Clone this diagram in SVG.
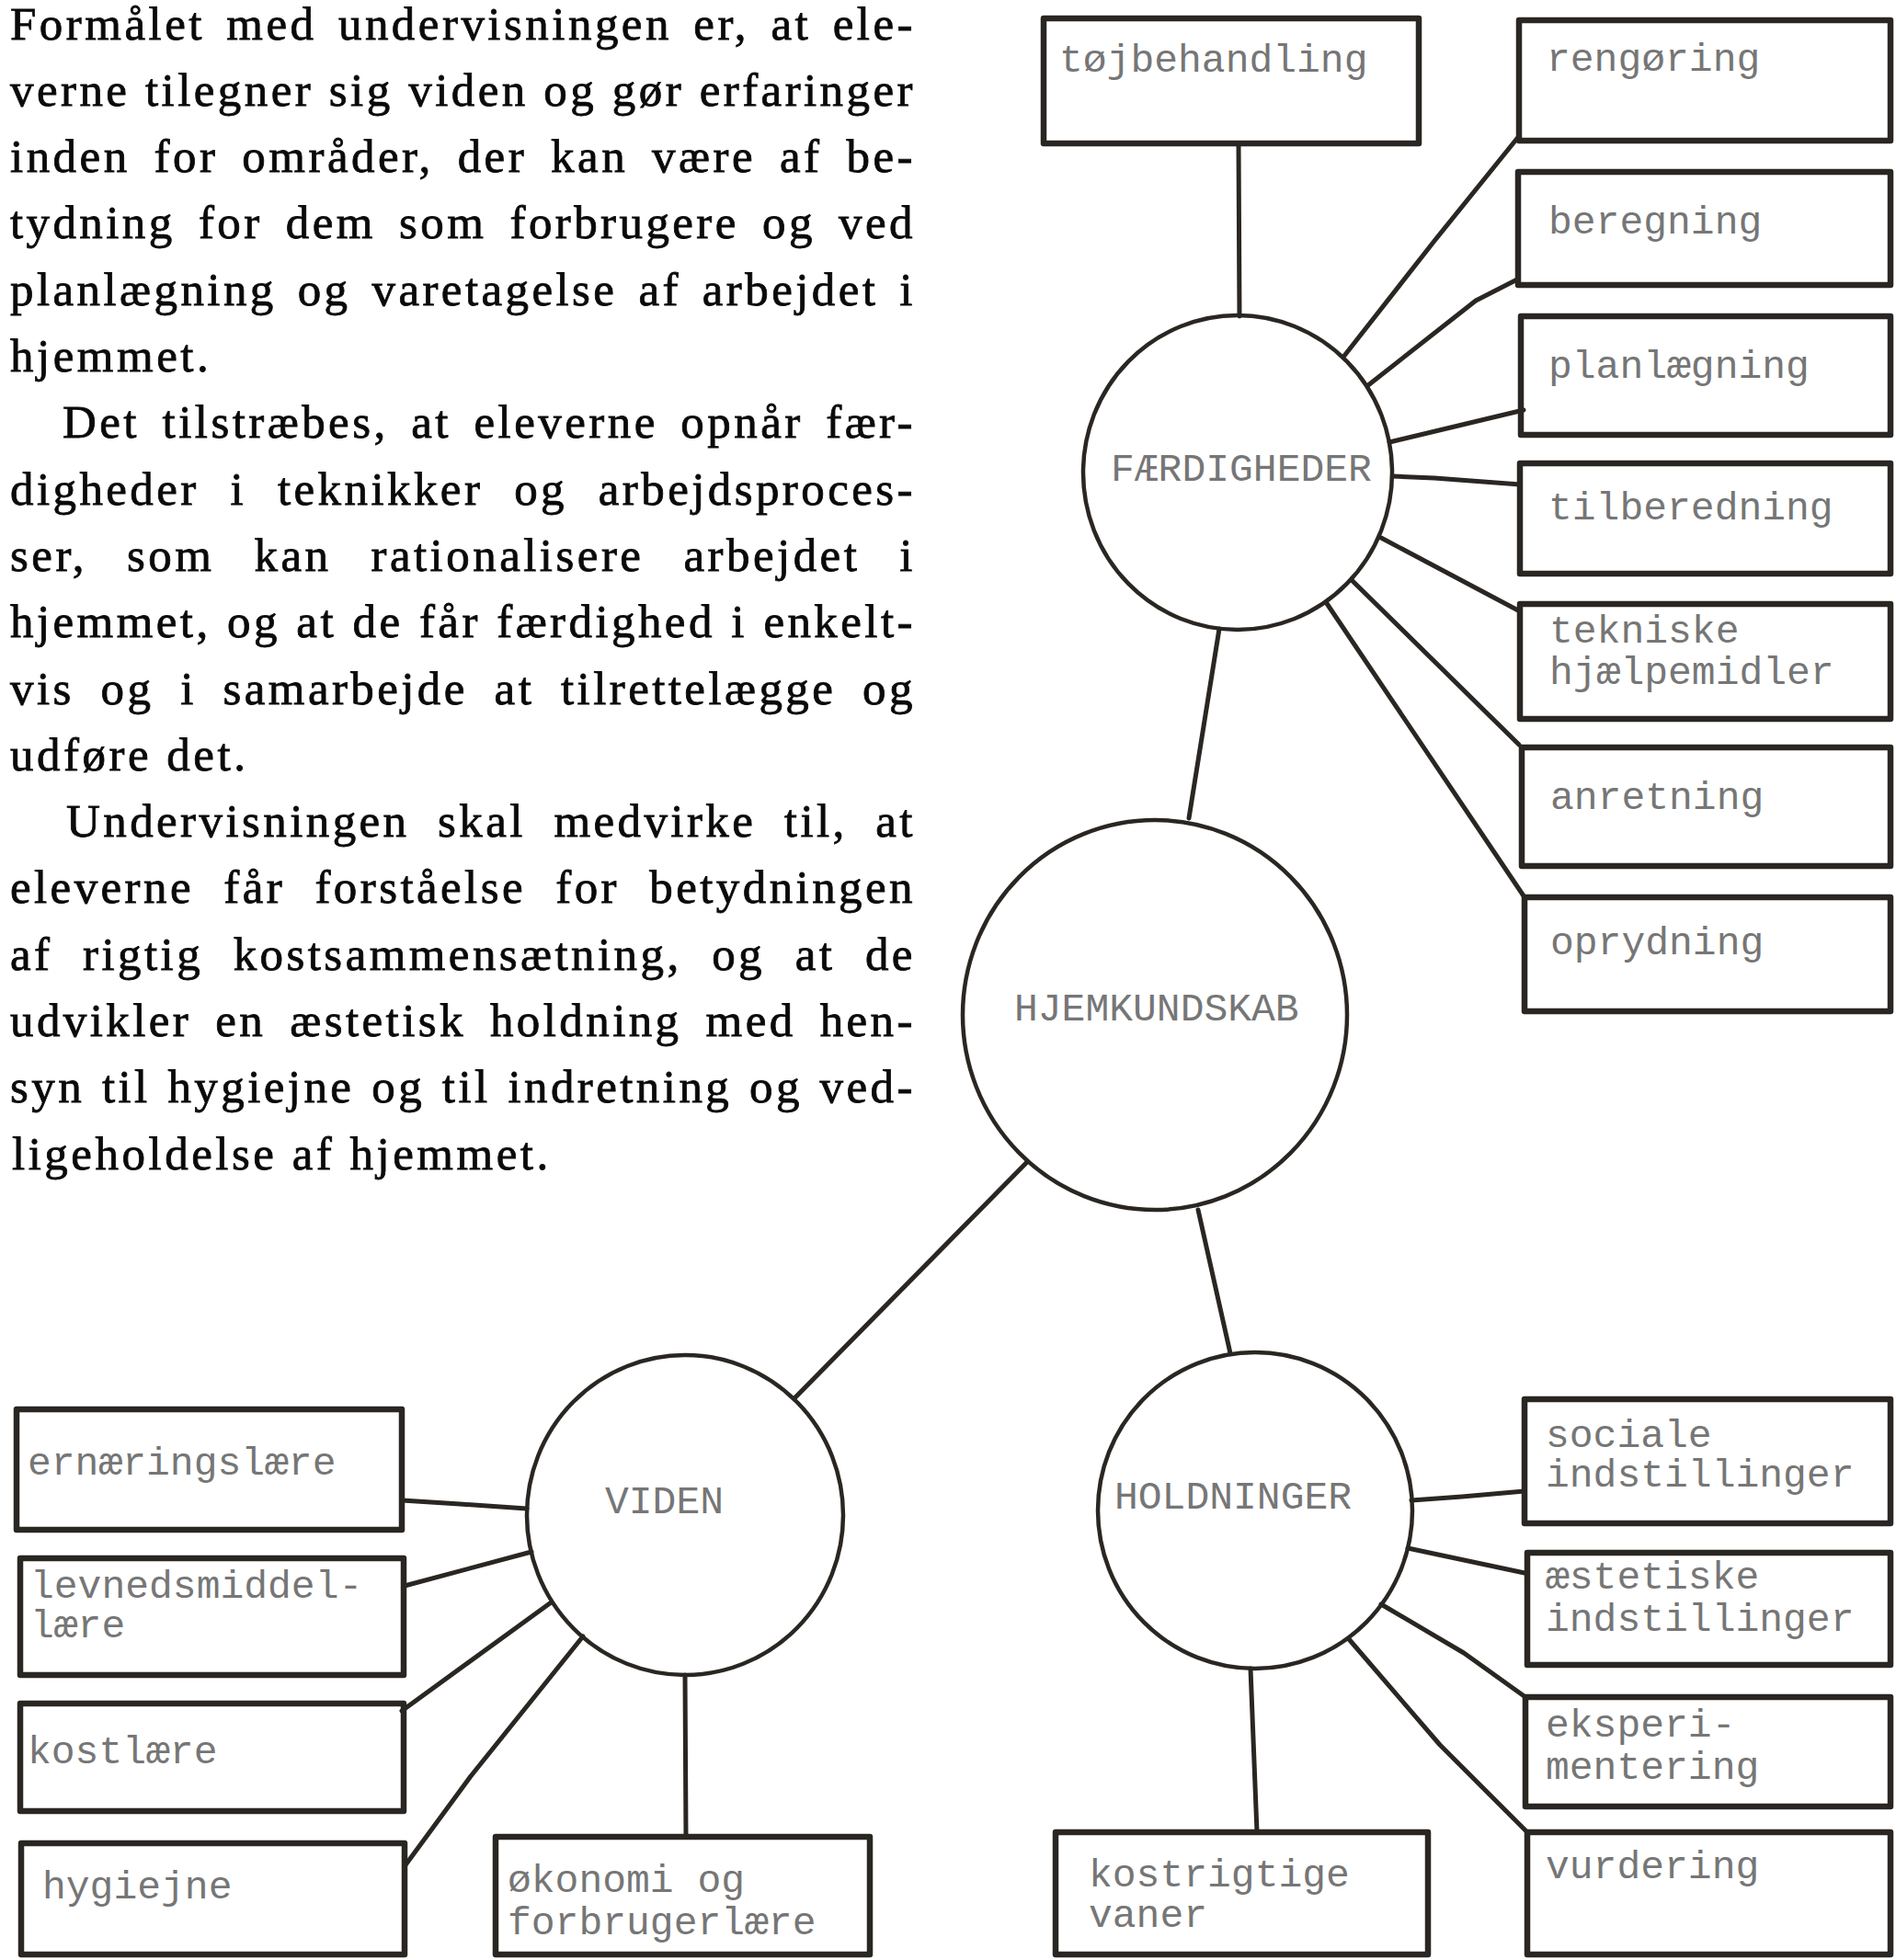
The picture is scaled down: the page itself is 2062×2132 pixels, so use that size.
<svg xmlns="http://www.w3.org/2000/svg" width="2062" height="2132" viewBox="0 0 2062 2132">
<style>
  .body { font-family: "Liberation Serif", "Times New Roman", serif; font-size: 51px; letter-spacing: 3.5px; fill: #0a0a0a; stroke: #0a0a0a; stroke-width: 0.8px; }
  .box { fill: none; stroke: #2a2622; stroke-width: 6.5; stroke-linejoin: round; }
  .ell { fill: none; stroke: #2a2622; stroke-width: 4.5; }
  .con { fill: none; stroke: #2a2622; stroke-width: 5; stroke-linecap: round; stroke-linejoin: round; }
  .lbl { font-family: "Liberation Mono", "DejaVu Sans Mono", monospace; font-size: 43px; fill: #767676; }
</style>
<rect x="0" y="0" width="2062" height="2132" fill="#ffffff"/>

<g id="body-text" class="body">
  <text x="11" y="42.5" word-spacing="7.2" textLength="985" lengthAdjust="spacing">Formålet med undervisningen er, at ele-</text>
  <text x="11" y="114.8" word-spacing="0.5" textLength="985" lengthAdjust="spacing">verne tilegner sig viden og gør erfaringer</text>
  <text x="11" y="187.1" word-spacing="9.7" textLength="985" lengthAdjust="spacing">inden for områder, der kan være af be-</text>
  <text x="11" y="259.4" word-spacing="9.1" textLength="985" lengthAdjust="spacing">tydning for dem som forbrugere og ved</text>
  <text x="11" y="331.7" word-spacing="6.8" textLength="985" lengthAdjust="spacing">planlægning og varetagelse af arbejdet i</text>
  <text x="11" y="404">hjemmet.</text>
  <text x="68" y="476.3" word-spacing="8.4" textLength="928" lengthAdjust="spacing">Det tilstræbes, at eleverne opnår fær-</text>
  <text x="11" y="548.6" word-spacing="17.7" textLength="985" lengthAdjust="spacing">digheder i teknikker og arbejdsproces-</text>
  <text x="11" y="620.9" word-spacing="26.8" textLength="985" lengthAdjust="spacing">ser, som kan rationalisere arbejdet i</text>
  <text x="11" y="693.2" word-spacing="1.3" textLength="985" lengthAdjust="spacing">hjemmet, og at de får færdighed i enkelt-</text>
  <text x="11" y="765.5" word-spacing="12.6" textLength="985" lengthAdjust="spacing">vis og i samarbejde at tilrettelægge og</text>
  <text x="11" y="837.8">udføre det.</text>
  <text x="72" y="910.1" word-spacing="14.4" textLength="924" lengthAdjust="spacing">Undervisningen skal medvirke til, at</text>
  <text x="11" y="982.4" word-spacing="16.2" textLength="985" lengthAdjust="spacing">eleverne får forståelse for betydningen</text>
  <text x="11" y="1054.7" word-spacing="16.5" textLength="985" lengthAdjust="spacing">af rigtig kostsammensætning, og at de</text>
  <text x="11" y="1127" word-spacing="9.9" textLength="985" lengthAdjust="spacing">udvikler en æstetisk holdning med hen-</text>
  <text x="11" y="1199.3" word-spacing="2.6" textLength="985" lengthAdjust="spacing">syn til hygiejne og til indretning og ved-</text>
  <text x="13" y="1271.6">ligeholdelse af hjemmet.</text>
</g>

<g id="connectors" class="con">
  <!-- FÆRDIGHEDER -->
  <polyline points="1347,156 1348,344"/>
  <polyline points="1652,148 1560,262 1462,387"/>
  <polyline points="1650,304 1605,327 1488,419"/>
  <polyline points="1657,446 1511,481"/>
  <polyline points="1653,527 1560,520 1515,518"/>
  <polyline points="1502,585 1653,665"/>
  <polyline points="1470,631 1652,810"/>
  <polyline points="1442,655 1658,976"/>
  <!-- hub -->
  <polyline points="1326,684 1293,890"/>
  <polyline points="1117,1264 864,1521"/>
  <polyline points="1303,1316 1338,1472"/>
  <!-- VIDEN -->
  <polyline points="437,1632 500,1636 573,1641"/>
  <polyline points="440,1725 578,1688"/>
  <polyline points="437,1861 598,1744"/>
  <polyline points="440,2030 512,1932 634,1780"/>
  <polyline points="745,1822 746,1998"/>
  <!-- HOLDNINGER -->
  <polyline points="1535,1632 1590,1628 1658,1622"/>
  <polyline points="1531,1684 1658,1711"/>
  <polyline points="1502,1745 1592,1798 1659,1846"/>
  <polyline points="1467,1783 1566,1898 1661,1993"/>
  <polyline points="1360,1815 1367,1993"/>
</g>

<g id="n-faerdigheder">
  <ellipse class="ell" cx="1346" cy="514" rx="168" ry="171"/>
  <text class="lbl" x="1208" y="523">FÆRDIGHEDER</text>
</g>
<g id="n-hjemkundskab">
  <ellipse class="ell" cx="1256" cy="1104" rx="209" ry="212"/>
  <text class="lbl" x="1103" y="1110">HJEMKUNDSKAB</text>
</g>
<g id="n-viden">
  <ellipse class="ell" cx="745" cy="1648" rx="172" ry="174"/>
  <text class="lbl" x="658" y="1646">VIDEN</text>
</g>
<g id="n-holdninger">
  <ellipse class="ell" cx="1365" cy="1643" rx="171" ry="172"/>
  <text class="lbl" x="1212" y="1641">HOLDNINGER</text>
</g>

<g id="n-tojbehandling">
  <rect class="box" x="1135" y="20" width="408" height="136"/>
  <text class="lbl" x="1152" y="78">tøjbehandling</text>
</g>
<g id="n-rengoring">
  <rect class="box" x="1652" y="22" width="404" height="131"/>
  <text class="lbl" x="1682" y="77">rengøring</text>
</g>
<g id="n-beregning">
  <rect class="box" x="1651" y="187" width="405" height="123"/>
  <text class="lbl" x="1684" y="254">beregning</text>
</g>
<g id="n-planlaegning">
  <rect class="box" x="1654" y="344" width="402" height="129"/>
  <text class="lbl" x="1684" y="411">planlægning</text>
</g>
<g id="n-tilberedning">
  <rect class="box" x="1653" y="504" width="403" height="120"/>
  <text class="lbl" x="1684" y="565">tilberedning</text>
</g>
<g id="n-tekniske">
  <rect class="box" x="1653" y="657" width="403" height="125"/>
  <text class="lbl" x="1685" y="699">tekniske</text>
  <text class="lbl" x="1685" y="744">hjælpemidler</text>
</g>
<g id="n-anretning">
  <rect class="box" x="1655" y="813" width="401" height="129"/>
  <text class="lbl" x="1686" y="880">anretning</text>
</g>
<g id="n-oprydning">
  <rect class="box" x="1658" y="976" width="398" height="124"/>
  <text class="lbl" x="1686" y="1038">oprydning</text>
</g>

<g id="n-ernaeringslaere">
  <rect class="box" x="18" y="1533" width="419" height="131"/>
  <text class="lbl" x="30" y="1604">ernæringslære</text>
</g>
<g id="n-levnedsmiddellaere">
  <rect class="box" x="22" y="1695" width="417" height="127"/>
  <text class="lbl" x="33" y="1738">levnedsmiddel-</text>
  <text class="lbl" x="33" y="1781">lære</text>
</g>
<g id="n-kostlaere">
  <rect class="box" x="22" y="1853" width="417" height="117"/>
  <text class="lbl" x="30" y="1918">kostlære</text>
</g>
<g id="n-hygiejne">
  <rect class="box" x="23" y="2005" width="417" height="121"/>
  <text class="lbl" x="46" y="2065">hygiejne</text>
</g>
<g id="n-okonomi">
  <rect class="box" x="539" y="1998" width="407" height="128"/>
  <text class="lbl" x="552" y="2058">økonomi og</text>
  <text class="lbl" x="552" y="2104">forbrugerlære</text>
</g>

<g id="n-sociale">
  <rect class="box" x="1658" y="1522" width="398" height="135"/>
  <text class="lbl" x="1681" y="1574">sociale</text>
  <text class="lbl" x="1681" y="1617">indstillinger</text>
</g>
<g id="n-aestetiske">
  <rect class="box" x="1661" y="1689" width="395" height="122"/>
  <text class="lbl" x="1681" y="1728">æstetiske</text>
  <text class="lbl" x="1681" y="1774">indstillinger</text>
</g>
<g id="n-eksperimentering">
  <rect class="box" x="1659" y="1846" width="397" height="119"/>
  <text class="lbl" x="1681" y="1889">eksperi-</text>
  <text class="lbl" x="1681" y="1935">mentering</text>
</g>
<g id="n-vurdering">
  <rect class="box" x="1661" y="1993" width="395" height="133"/>
  <text class="lbl" x="1681" y="2043">vurdering</text>
</g>
<g id="n-kostrigtige">
  <rect class="box" x="1148" y="1993" width="405" height="133"/>
  <text class="lbl" x="1184" y="2052">kostrigtige</text>
  <text class="lbl" x="1184" y="2096">vaner</text>
</g>
</svg>
